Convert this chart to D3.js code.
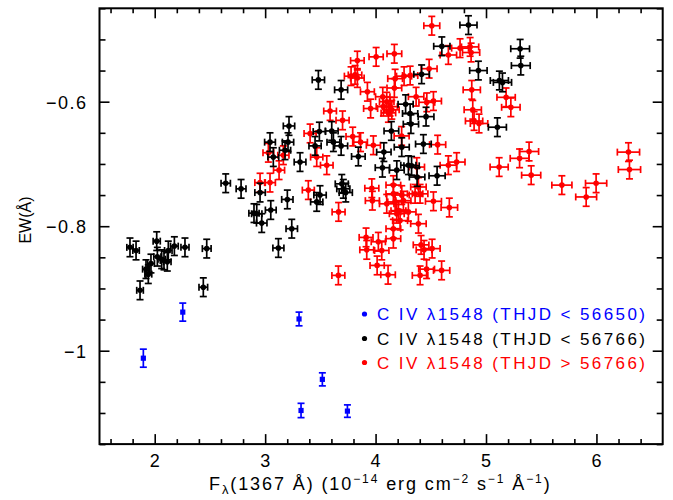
<!DOCTYPE html>
<html>
<head>
<meta charset="utf-8">
<script src="https://cdn.jsdelivr.net/npm/d3@7/dist/d3.min.js"></script>
<style>
  html, body { margin: 0; padding: 0; background: #fff; }
  svg { display: block; font-family: "Liberation Sans", Arial, sans-serif; }
</style>
</head>
<body>
<svg id="chart" width="673" height="500"></svg>
<script>
// ---------------- data ----------------
const blueX = [1.897, 2.254, 3.307, 3.325, 3.518, 3.745];
const blueY = [-1.012, -0.938, -0.949, -1.096, -1.046, -1.097];
const blueYErr = [0.0145, 0.0145, 0.011, 0.0115, 0.0105, 0.010];

const blackX = [1.776,1.831,2.018,1.921,1.942,1.966,1.867,2.024,2.063,2.084,
  2.114,2.123,2.178,2.274,2.471,2.440,2.643,2.782,2.954,2.899,
  2.924,2.969,3.051,3.120,3.201,3.241,3.074,3.044,3.216,3.207,
  3.180,3.482,3.688,4.841,4.600,4.931,5.309,5.315,5.121,5.149,
  5.103,4.417,4.272,4.313,4.457,4.320,4.143,3.491,3.603,3.452,
  3.618,3.688,3.844,4.075,4.237,4.433,3.316,4.062,4.192,4.297,
  4.326,4.376,4.557,3.694,3.708,3.730,3.497,3.467];
const blackY = [-0.834,-0.839,-0.824,-0.869,-0.877,-0.860,-0.903,-0.849,-0.853,-0.855,
  -0.857,-0.839,-0.832,-0.834,-0.836,-0.898,-0.731,-0.740,-0.746,-0.779,
  -0.780,-0.795,-0.774,-0.835,-0.757,-0.804,-0.689,-0.665,-0.639,-0.665,
  -0.678,-0.565,-0.581,-0.477,-0.511,-0.550,-0.515,-0.542,-0.566,-0.569,
  -0.641,-0.556,-0.604,-0.619,-0.624,-0.636,-0.647,-0.648,-0.647,-0.671,
  -0.665,-0.671,-0.688,-0.681,-0.673,-0.668,-0.697,-0.706,-0.710,-0.702,
  -0.703,-0.721,-0.719,-0.732,-0.740,-0.746,-0.750,-0.761];

const redX = [4.509,4.005,4.170,3.835,3.778,3.814,3.835,3.926,3.955,3.588,
  3.701,3.407,3.793,3.864,3.980,4.562,4.065,4.101,4.131,4.147,
  4.116,4.071,4.177,4.170,4.258,4.313,4.485,4.367,4.464,4.524,
  4.236,4.659,4.765,4.856,4.865,4.871,4.880,4.892,4.937,5.182,
  5.225,6.290,5.304,5.390,5.119,5.409,5.687,5.907,5.997,6.299,
  4.373,4.659,4.734,4.161,4.388,3.966,3.971,4.161,4.237,4.252,
  4.177,4.101,4.207,4.297,4.192,4.222,4.388,4.161,4.161,4.358,
  4.403,4.524,4.668,3.914,4.025,3.920,4.056,4.014,4.113,4.412,
  4.439,4.512,4.462,4.403,4.598,3.663,3.665,3.391,3.558,3.467,
  3.126,2.954,3.044,3.029,3.165];
const redY = [-0.478,-0.528,-0.523,-0.534,-0.559,-0.557,-0.562,-0.584,-0.611,-0.615,
  -0.630,-0.651,-0.656,-0.665,-0.670,-0.669,-0.592,-0.600,-0.608,-0.613,
  -0.618,-0.608,-0.563,-0.578,-0.559,-0.558,-0.547,-0.592,-0.601,-0.599,
  -0.655,-0.525,-0.514,-0.512,-0.521,-0.581,-0.613,-0.631,-0.635,-0.593,
  -0.609,-0.681,-0.691,-0.680,-0.705,-0.718,-0.734,-0.753,-0.731,-0.709,
  -0.705,-0.702,-0.697,-0.734,-0.737,-0.739,-0.759,-0.748,-0.750,-0.759,
  -0.761,-0.764,-0.775,-0.777,-0.780,-0.791,-0.796,-0.804,-0.820,-0.748,
  -0.748,-0.760,-0.770,-0.818,-0.825,-0.838,-0.839,-0.863,-0.878,-0.830,
  -0.838,-0.836,-0.869,-0.879,-0.871,-0.879,-0.777,-0.742,-0.702,-0.689,
  -0.710,-0.730,-0.730,-0.682,-0.686];

// estimated measurement uncertainties
const xErrFrac = 0.016;   // relative flux error
const yErr = 0.015;       // EW error (black & red)

const xDomain = [1.5, 6.6];
const yDomain = [-1.15, -0.45];
const xMajorTicks = [2, 3, 4, 5, 6];
const yMajorTicks = [-1, -0.8, -0.6];
const legendLabels = ["C IV \u03bb1548 (THJD < 56650)", "C IV \u03bb1548 (THJD < 56766)", "C IV \u03bb1548 (THJD > 56766)"];
const legendColors = ["#0000ff", "#000000", "#ff0000"];

// ---------------- chart ----------------
const svg = d3.select("#chart");
const L = 99.5, R = 662.7, T = 8.3, B = 444.1;
const x = d3.scaleLinear().domain(xDomain).range([L, R]);
const y = d3.scaleLinear().domain(yDomain).range([B, T]);

const xMinor = d3.range(16, 66, 2).map(v => v / 10).filter(v => !xMajorTicks.includes(v));
const yMinor = d3.range(-115, -44, 5).map(v => v / 100).filter(v => !yMajorTicks.some(m => Math.abs(m - v) < 1e-9));
const fmtNum = d => (d < 0 ? "\u2212" : "") + Math.abs(d);

function styleAxis(g) {
  g.select(".domain").remove();
  g.selectAll("line").attr("stroke", "#000").attr("stroke-width", 1.6);
}

// minor ticks
svg.append("g").attr("transform", `translate(0,${B})`)
  .call(d3.axisBottom(x).tickValues(xMinor).tickSize(-5).tickFormat("")).call(styleAxis);
svg.append("g").attr("transform", `translate(0,${T})`)
  .call(d3.axisTop(x).tickValues(xMinor).tickSize(-5).tickFormat("")).call(styleAxis);
svg.append("g").attr("transform", `translate(${L},0)`)
  .call(d3.axisLeft(y).tickValues(yMinor).tickSize(-6).tickFormat("")).call(styleAxis);
svg.append("g").attr("transform", `translate(${R},0)`)
  .call(d3.axisRight(y).tickValues(yMinor).tickSize(-6).tickFormat("")).call(styleAxis);

// major ticks
const gxb = svg.append("g").attr("transform", `translate(0,${B})`)
  .call(d3.axisBottom(x).tickValues(xMajorTicks).tickSize(-10).tickFormat(fmtNum)).call(styleAxis);
gxb.selectAll("text").attr("y", 22.5).attr("dy", 0).attr("fill", "#000")
  .style("font-size", "18px").style("letter-spacing", "1px").attr("font-family", null);
svg.append("g").attr("transform", `translate(0,${T})`)
  .call(d3.axisTop(x).tickValues(xMajorTicks).tickSize(-10).tickFormat("")).call(styleAxis);
const gyl = svg.append("g").attr("transform", `translate(${L},0)`)
  .call(d3.axisLeft(y).tickValues(yMajorTicks).tickSize(-10).tickFormat(fmtNum)).call(styleAxis);
gyl.selectAll("text").attr("x", -12).attr("dy", "0.36em").attr("fill", "#000")
  .style("font-size", "18px").style("letter-spacing", "1.5px").attr("font-family", null);
svg.append("g").attr("transform", `translate(${R},0)`)
  .call(d3.axisRight(y).tickValues(yMajorTicks).tickSize(-10).tickFormat("")).call(styleAxis);

// frame
svg.append("rect").attr("x", L).attr("y", T).attr("width", R - L).attr("height", B - T)
  .attr("fill", "none").attr("stroke", "#000").attr("stroke-width", 2);

// error-bar points
function drawSeries(xs, ys, color, yerrs, withX, marker) {
  const g = svg.append("g").attr("stroke", color).attr("fill", color);
  const cap = 3.5;
  xs.forEach((xv, i) => {
    const yv = ys[i];
    const ye = yerrs ? yerrs[i] : yErr;
    const cx = x(xv), cy = y(yv);
    const y0 = y(yv - ye), y1 = y(yv + ye);
    const p = g.append("g").attr("stroke-width", 1.7);
    p.append("line").attr("x1", cx).attr("x2", cx).attr("y1", y0).attr("y2", y1);
    p.append("line").attr("x1", cx - cap).attr("x2", cx + cap).attr("y1", y0).attr("y2", y0);
    p.append("line").attr("x1", cx - cap).attr("x2", cx + cap).attr("y1", y1).attr("y2", y1);
    if (withX) {
      const xe = xv * xErrFrac;
      const x0 = x(xv - xe), x1 = x(xv + xe);
      p.append("line").attr("x1", x0).attr("x2", x1).attr("y1", cy).attr("y2", cy);
      p.append("line").attr("x1", x0).attr("x2", x0).attr("y1", cy - cap).attr("y2", cy + cap);
      p.append("line").attr("x1", x1).attr("x2", x1).attr("y1", cy - cap).attr("y2", cy + cap);
    }
    if (marker === "square") {
      g.append("rect").attr("x", cx - 2.6).attr("y", cy - 2.6).attr("width", 5.2).attr("height", 5.2).attr("stroke", "none");
    } else {
      g.append("circle").attr("cx", cx).attr("cy", cy).attr("r", 2.8).attr("stroke", "none");
    }
  });
}
drawSeries(redX, redY, "#ff0000", null, true, "circle");
drawSeries(blackX, blackY, "#000000", null, true, "circle");
drawSeries(blueX, blueY, "#0000ff", blueYErr, false, "square");

// legend
const legBase = [320, 344.5, 368.5];
legendLabels.forEach((lab, i) => {
  svg.append("circle").attr("cx", 364.5).attr("cy", legBase[i] - 6).attr("r", 2.6).attr("fill", legendColors[i]);
  svg.append("text").attr("x", 377).attr("y", legBase[i]).attr("fill", legendColors[i])
    .style("font-size", "17px").attr("textLength", 268).attr("lengthAdjust", "spacing").text(lab);
});

// axis titles
const xt = svg.append("text").attr("x", 209).attr("y", 490).attr("fill", "#000")
  .style("font-size", "18px").style("letter-spacing", "1.9px");
xt.append("tspan").text("F");
xt.append("tspan").attr("dy", 4).style("font-size", "13px").text("\u03bb");
xt.append("tspan").attr("dy", -4).text("(1367 \u00c5) (10");
xt.append("tspan").attr("dy", -7).style("font-size", "12px").text("\u221214");
xt.append("tspan").attr("dy", 7).text(" erg cm");
xt.append("tspan").attr("dy", -7).style("font-size", "12px").text("\u22122");
xt.append("tspan").attr("dy", 7).text(" s");
xt.append("tspan").attr("dy", -7).style("font-size", "12px").text("\u22121");
xt.append("tspan").attr("dy", 7).text(" \u00c5");
xt.append("tspan").attr("dy", -7).style("font-size", "12px").text("\u22121");
xt.append("tspan").attr("dy", 7).text(")");

svg.append("text").attr("transform", "translate(31,220) rotate(-90)")
  .attr("text-anchor", "middle").attr("fill", "#000").style("font-size", "16px").text("EW(\u00c5)");
</script>
</body>
</html>
